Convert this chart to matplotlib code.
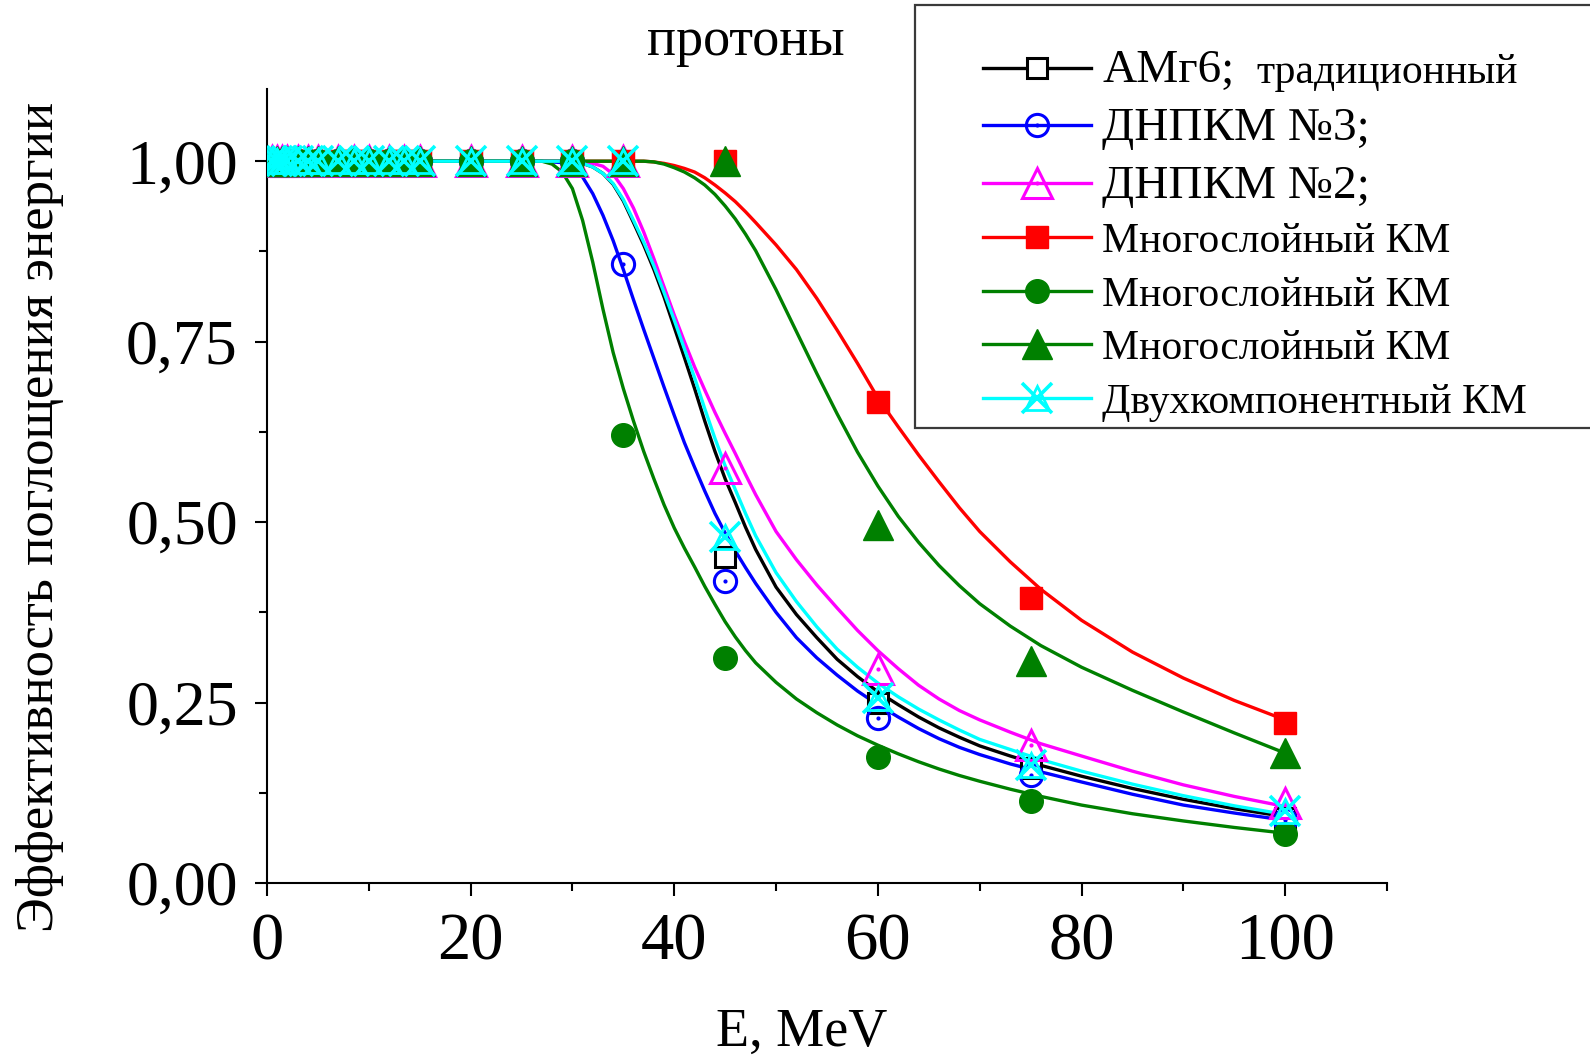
import matplotlib
matplotlib.use("Agg")
import matplotlib.pyplot as plt
from matplotlib.patches import Rectangle
from matplotlib.ticker import MultipleLocator

plt.rcParams['font.family'] = ['Liberation Serif', 'DejaVu Serif']

# measured points (E, MeV)
E_low = [0.5, 1, 1.5, 2, 3, 4, 5, 7, 8.5, 10, 12, 13.5, 15, 20, 25, 30]
plateau = [1.00, 1.00, 1.00, 1.00, 1.00, 1.00, 1.00, 1.00,
           1.00, 1.00, 1.00, 1.00, 1.00, 1.00, 1.00, 1.00]
E_high = [35, 45, 60, 75, 100]

amg6_pts = [1.00, 0.451, 0.250, 0.160, 0.090]
dnpkm3_pts = [0.858, 0.418, 0.229, 0.149, 0.088]
dnpkm2_pts = [1.00, 0.575, 0.297, 0.191, 0.111]
multi_sq_pts = [1.00, 1.00, 0.667, 0.395, 0.222]
multi_ci_pts = [0.620, 0.312, 0.174, 0.114, 0.068]
multi_tr_pts = [1.00, 1.00, 0.496, 0.308, 0.180]
twocomp_pts = [1.00, 0.480, 0.257, 0.163, 0.100]

# fitted curves
E_fit = [0.5, 25, 27, 28, 29, 30, 31, 32, 33, 34, 35, 36, 37, 38, 39, 40,
         41, 42, 43, 44, 45, 46, 47, 48, 50, 52, 54, 56, 58, 60, 62, 64, 66,
         68, 70, 73, 76, 80, 85, 90, 95, 100]
amg6_fit = [1.0, 1.0, 1.0, 1.0, 1.0, 0.999, 0.997, 0.992, 0.983, 0.968, 0.945,
            0.915, 0.884, 0.85, 0.812, 0.77, 0.728, 0.685, 0.64, 0.598, 0.56,
            0.527, 0.493, 0.462, 0.41, 0.372, 0.34, 0.31, 0.286, 0.265,
            0.247, 0.23, 0.215, 0.202, 0.19, 0.176, 0.163, 0.148, 0.131,
            0.116, 0.103, 0.092]
dnpkm3_fit = [1.0, 1.0, 1.0, 0.999, 0.998, 0.993, 0.978, 0.955, 0.925, 0.89,
              0.85, 0.808, 0.767, 0.727, 0.687, 0.648, 0.61, 0.576, 0.543,
              0.512, 0.485, 0.46, 0.437, 0.415, 0.375, 0.34, 0.312, 0.288,
              0.266, 0.247, 0.23, 0.214, 0.2, 0.188, 0.178, 0.165, 0.154,
              0.14, 0.123, 0.108, 0.097, 0.087]
dnpkm2_fit = [1.0, 1.0, 1.0, 1.0, 1.0, 1.0, 0.999, 0.997, 0.993, 0.982, 0.962,
              0.935, 0.902, 0.865, 0.826, 0.787, 0.75, 0.715, 0.683, 0.652,
              0.623, 0.595, 0.566, 0.538, 0.487, 0.448, 0.413, 0.381, 0.35,
              0.322, 0.297, 0.274, 0.255, 0.239, 0.226, 0.209, 0.193, 0.176,
              0.155, 0.136, 0.12, 0.106]
multi_sq_fit = [1.0, 1.0, 1.0, 1.0, 1.0, 1.0, 1.0, 1.0, 1.0, 1.0, 1.0, 1.0,
                1.0, 0.999, 0.997, 0.994, 0.99, 0.985, 0.977, 0.967, 0.956,
                0.944, 0.93, 0.915, 0.884, 0.85, 0.81, 0.766, 0.72, 0.672,
                0.632, 0.593, 0.556, 0.52, 0.487, 0.445, 0.407, 0.364, 0.32,
                0.284, 0.253, 0.226]
multi_ci_fit = [1.0, 1.0, 1.0, 0.996, 0.985, 0.962, 0.918, 0.86, 0.795, 0.735,
                0.685, 0.64, 0.598, 0.56, 0.524, 0.492, 0.464, 0.438, 0.411,
                0.386, 0.362, 0.341, 0.322, 0.305, 0.278, 0.255, 0.236, 0.219,
                0.204, 0.191, 0.179, 0.168, 0.158, 0.149, 0.141, 0.13, 0.12,
                0.108, 0.096, 0.086, 0.077, 0.069]
multi_tr_fit = [1.0, 1.0, 1.0, 1.0, 1.0, 1.0, 1.0, 1.0, 1.0, 1.0, 1.0, 1.0,
                1.0, 0.999, 0.996, 0.991, 0.985, 0.977, 0.967, 0.954, 0.938,
                0.92, 0.899, 0.876, 0.822, 0.764, 0.706, 0.65, 0.597, 0.55,
                0.508, 0.472, 0.44, 0.412, 0.387, 0.356, 0.329, 0.299, 0.267,
                0.237, 0.208, 0.18]
twocomp_fit = [1.0, 1.0, 1.0, 1.0, 1.0, 0.999, 0.997, 0.992, 0.983, 0.969,
               0.947, 0.918, 0.888, 0.855, 0.818, 0.78, 0.74, 0.70, 0.657,
               0.616, 0.578, 0.545, 0.512, 0.481, 0.43, 0.39, 0.355, 0.324,
               0.299, 0.277, 0.258, 0.241, 0.226, 0.212, 0.199, 0.185, 0.171,
               0.155, 0.137, 0.121, 0.107, 0.095]

labels = ["АМг6;", "ДНПКМ №3;", "ДНПКМ №2;", "Многослойный КМ",
          "Многослойный КМ", "Многослойный КМ", "Двухкомпонентный КМ"]

E_pts = E_low + E_high

fig = plt.figure(figsize=(15.9, 10.56), dpi=100)
ax = fig.add_axes([0.1679, 0.1638, 0.7044, 0.7519])

lw = 2.4
handles = []

# АМг6 - black open square
l1, = ax.plot(E_fit, amg6_fit, color='black', lw=lw, zorder=2)
m1, = ax.plot(E_pts, plateau + amg6_pts, ls='none', marker='s', ms=14,
              mfc='white', mec='black', mew=2.2, zorder=3)
handles.append((l1, m1))

# ДНПКМ №3 - blue circle with dot
l2, = ax.plot(E_fit, dnpkm3_fit, color='blue', lw=lw, zorder=2)
m2, = ax.plot(E_pts, plateau + dnpkm3_pts, ls='none', marker='o', ms=16,
              mfc='none', mec='blue', mew=2.2, zorder=3)
d2, = ax.plot(E_pts, plateau + dnpkm3_pts, ls='none', marker='.', ms=4,
              color='blue', zorder=3)
handles.append((l2, m2, d2))

# ДНПКМ №2 - magenta triangle with dot
l3, = ax.plot(E_fit, dnpkm2_fit, color='magenta', lw=lw, zorder=2)
m3, = ax.plot(E_pts, plateau + dnpkm2_pts, ls='none', marker='^', ms=21,
              mfc='none', mec='magenta', mew=2.2, zorder=3)
d3, = ax.plot(E_pts, plateau + dnpkm2_pts, ls='none', marker='.', ms=4,
              color='magenta', zorder=3)
handles.append((l3, m3, d3))

# red filled square
l4, = ax.plot(E_fit, multi_sq_fit, color='red', lw=lw, zorder=2)
m4, = ax.plot(E_pts, plateau + multi_sq_pts, ls='none', marker='s', ms=16,
              color='red', zorder=3)
handles.append((l4, m4))

# green filled circle
l5, = ax.plot(E_fit, multi_ci_fit, color='green', lw=lw, zorder=2)
m5, = ax.plot(E_pts, plateau + multi_ci_pts, ls='none', marker='o', ms=17,
              color='green', zorder=3)
handles.append((l5, m5))

# green filled triangle
l6, = ax.plot(E_fit, multi_tr_fit, color='green', lw=lw, zorder=2)
m6, = ax.plot(E_pts, plateau + multi_tr_pts, ls='none', marker='^', ms=22,
              color='green', zorder=3)
handles.append((l6, m6))

# cyan star (x + triangle)
l7, = ax.plot(E_fit, twocomp_fit, color='cyan', lw=lw, zorder=2)
m7a, = ax.plot(E_pts, plateau + twocomp_pts, ls='none', marker='x', ms=21,
               mec='cyan', mew=2.6, zorder=4)
m7b, = ax.plot(E_pts, plateau + twocomp_pts, ls='none', marker='^', ms=17,
               mfc='none', mec='cyan', mew=2.0, zorder=4)
handles.append((l7, m7a, m7b))

ax.set_xlim(0, 110)
ax.set_ylim(0, 1.1)
ax.set_xticks([0, 20, 40, 60, 80, 100])
ax.set_yticks([0, 0.25, 0.5, 0.75, 1.0])
ax.set_yticklabels(['0,00', '0,25', '0,50', '0,75', '1,00'])
ax.xaxis.set_minor_locator(MultipleLocator(10))
ax.yaxis.set_minor_locator(MultipleLocator(0.125))
ax.tick_params(which='major', direction='out', length=9, width=1.5)
ax.tick_params(which='minor', direction='out', length=6, width=1.5)
ax.tick_params(axis='x', labelsize=48, pad=12)
ax.tick_params(axis='y', labelsize=46, pad=12)
for s in ['top', 'right']:
    ax.spines[s].set_visible(False)
for s in ['left', 'bottom']:
    ax.spines[s].set_linewidth(1.5)

ax.set_xlabel("E, MeV", fontsize=39)
ax.xaxis.set_label_coords(0.477, -0.157)
ax.set_ylabel("Эффективность поглощения энергии", fontsize=38)
ax.yaxis.set_label_coords(-0.181, 0.461)

fig.text(746 / 1590, 1 - 55 / 1056, "протоны", fontsize=39,
         ha='center', va='baseline')

# legend box
frame = Rectangle((915 / 1590, 1 - 428 / 1056), 0.5, 423 / 1056,
                  transform=fig.transFigure, fc='white', ec='#3a3a3a',
                  lw=1.6, zorder=4)
fig.add_artist(frame)

leg = fig.legend(handles, labels, loc='upper left',
                 bbox_to_anchor=(983 / 1590, 1 - 50 / 1056),
                 frameon=False, fontsize=30, handlelength=2.6,
                 handletextpad=0.26, labelspacing=0.36, borderpad=0,
                 borderaxespad=0)
leg.set_zorder(6)
for t in leg.get_texts()[:3]:
    t.set_fontsize(34)

fig.canvas.draw()
r = fig.canvas.get_renderer()
bb = leg.get_texts()[0].get_window_extent(r)
fig.text((bb.x1 + 22) / fig.bbox.width, bb.y0 / fig.bbox.height,
         "традиционный", fontsize=30, ha='left', va='bottom', zorder=7)

fig.savefig("out.png", dpi=100)
